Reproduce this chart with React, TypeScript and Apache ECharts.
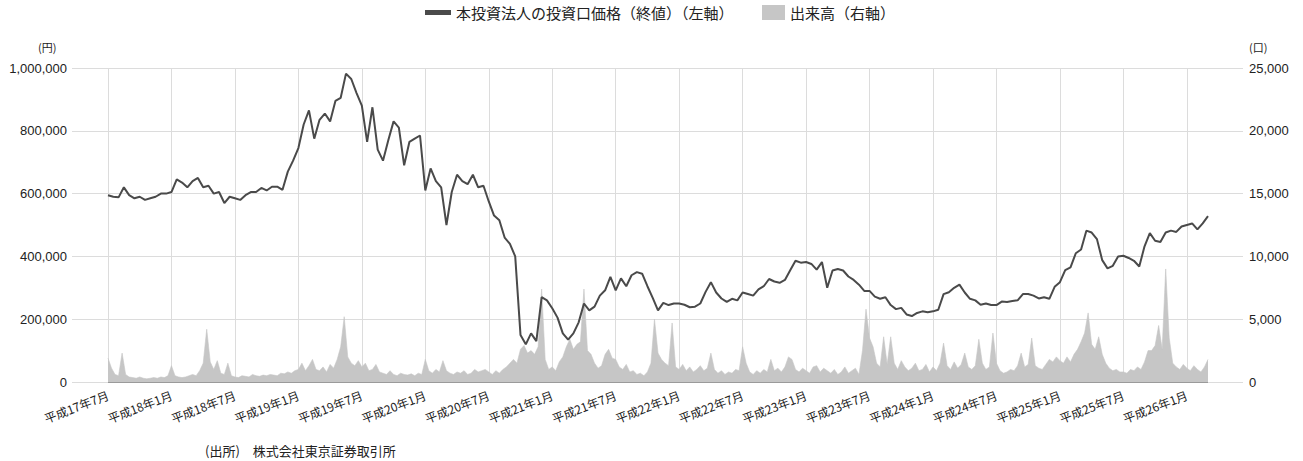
import React, { useEffect, useRef } from "react";
import * as echarts from "echarts";

// ---- data (price: every half month from 平成17年7月; volume: every third of a month) ----
const PRICE_NAME = "本投資法人の投資口価格（終値）（左軸）";
const VOLUME_NAME = "出来高（右軸）";

const priceStepMonths = 0.5;
const price: number[] = [
  // H17/7 - H17/12
  595, 590, 588, 620, 595, 585, 590, 580, 585, 590, 600, 600,
  // H18/1 - H18/6
  605, 645, 635, 620, 640, 650, 620, 625, 600, 605, 570, 590,
  // H18/7 - H18/12
  585, 580, 595, 605, 605, 618, 610, 622, 622, 612, 670, 705,
  // H19/1 - H19/6
  745, 820, 865, 775, 835, 855, 830, 895, 905, 982, 965, 920,
  // H19/7 - H19/12
  880, 765, 875, 740, 705, 770, 830, 810, 690, 765, 775, 785,
  // H20/1 - H20/6
  610, 680, 640, 620, 500, 605, 660, 640, 630, 660, 620, 625,
  // H20/7 - H20/12
  575, 530, 515, 460, 440, 400, 150, 120, 155, 130, 270, 260,
  // H21/1 - H21/6
  235, 205, 155, 135, 155, 190, 250, 228, 240, 275, 292, 335,
  // H21/7 - H21/12
  292, 330, 305, 340, 350, 345, 305, 268, 228, 252, 245, 250,
  // H22/1 - H22/6
  250, 246, 238, 240, 250, 287, 318, 285, 266, 255, 265, 260,
  // H22/7 - H22/12
  285, 280, 275, 295, 305, 328, 320, 316, 325, 356, 386, 380,
  // H23/1 - H23/6
  382, 376, 358, 382, 300, 355, 360, 355, 336, 325, 310, 290,
  // H23/7 - H23/12
  290, 272, 265, 270, 245, 232, 236, 215, 210, 220, 225, 222,
  // H24/1 - H24/6
  225, 230, 280, 286, 300, 310, 285, 265, 260, 246, 250, 245,
  // H24/7 - H24/12
  245, 256, 255, 258, 260, 280, 280, 275, 266, 270, 265, 303,
  // H25/1 - H25/6
  318, 356, 365, 410, 422, 482, 476, 455, 388, 362, 370, 400,
  // H25/7 - H25/12
  402, 395, 386, 368, 432, 474, 450, 446, 476, 482, 478, 495,
  // H26/1 - H26/4
  500, 505, 486, 505, 528,
].map((v) => v * 1000);

const volumeStepMonths = 1 / 3;
const volume: number[] = [
  // H17/7 - H17/12
  1900, 1100, 600, 500, 2300, 600, 400, 350, 300, 400, 300, 250, 300, 350, 300, 400, 350, 500,
  // H18/1 - H18/6
  1300, 500, 400, 350, 400, 500, 600, 500, 900, 1500, 4200, 1600, 1000, 1700, 700, 600, 1500, 500,
  // H18/7 - H18/12
  400, 350, 500, 450, 400, 600, 500, 450, 550, 500, 600, 550, 500, 700, 650, 800, 700, 900,
  // H19/1 - H19/6
  1000, 1500, 900, 1300, 1800, 1000, 900, 1200, 800, 1400, 1100, 1800, 2800, 5200, 2000, 1500, 1300, 1700,
  // H19/7 - H19/12
  1200, 1500, 900, 1000, 1400, 800, 700, 600, 900, 600, 500, 700, 600, 550, 650, 500, 700, 600,
  // H20/1 - H20/6
  1800, 900, 700, 1000, 800, 1700, 900, 700, 600, 800, 700, 900, 600, 700, 1000, 800, 900, 1000,
  // H20/7 - H20/12
  800, 600, 900, 700, 1000, 1200, 1500, 1800, 1500, 2600, 2900, 2300, 2500, 2200, 2800, 7400, 1800, 1000,
  // H21/1 - H21/6
  1200, 900, 1600, 2000, 2800, 3400, 2600, 3000, 3200, 7400, 2500, 2200, 1500, 1100, 1300, 2200, 2600, 1900,
  // H21/7 - H21/12
  1800, 1200, 1000, 1400, 800, 900, 600, 700, 500, 800, 1500, 5000, 2300, 1800, 1500, 1300, 4700, 1200,
  // H22/1 - H22/6
  1000, 1400, 900, 1200, 800, 1000, 1300, 900, 1100, 2300, 1000, 700, 900, 600, 800, 700, 1000, 900,
  // H22/7 - H22/12
  2800, 1500, 800, 600, 900, 700, 1000, 800, 1800, 900, 1100, 800, 1200, 2000, 1800, 1000, 800, 1100,
  // H23/1 - H23/6
  900, 700, 1200, 1300, 800, 1100, 900, 700, 1000, 600, 800, 1200, 700, 900, 1100, 600, 2500, 5800,
  // H23/7 - H23/12
  3500, 2800, 1500, 1200, 3600, 1400, 3600, 1500, 1000, 1700, 1200, 900, 1100, 1500, 900, 1000, 1400, 800,
  // H24/1 - H24/6
  1200, 900, 1500, 3100, 1300, 1000, 1600, 1100, 1400, 2300, 1200, 1000, 1300, 3400, 1500, 1000, 1200, 3900,
  // H24/7 - H24/12
  1500, 900, 700, 800, 1000, 900, 1300, 2300, 1200, 1400, 3500, 1300, 1100, 1000, 1400, 1800, 1600, 2000,
  // H25/1 - H25/6
  1700, 1500, 2000, 1600, 2200, 2600, 3200, 3900, 5500, 3000, 2600, 3600, 2200, 1500, 1100, 900, 1000, 800,
  // H25/7 - H25/12
  800, 700, 1000, 900, 1200, 1000, 1600, 2500, 2500, 2900, 4500, 2600, 9000, 3500, 1500, 1200, 1000, 1400,
  // H26/1 - H26/4
  1100, 900, 1300, 1000, 800, 1200, 1800,
];

const leftTicks = { min: 0, max: 1000000, interval: 200000 };
const rightTicks = { min: 0, max: 25000, interval: 5000 };
const xRange = { min: 0, max: 104, interval: 6 }; // months from 平成17年7月
const startHeiseiYear = 17;
const startMonthIndex = 6; // July (0-based)

const fmtNum = (v: number) => v.toLocaleString("en-US");
const heiseiLabel = (m: number) => {
  const total = startMonthIndex + Math.round(m);
  const y = startHeiseiYear + Math.floor(total / 12);
  const mo = (total % 12) + 1;
  return `平成${y}年${mo}月`;
};

const JP = "'Noto Sans CJK JP', 'Noto Sans', sans-serif";
const NUM = "'Liberation Sans', Arial, sans-serif";

export default function App() {
  const ref = useRef<HTMLDivElement>(null);
  useEffect(() => {
    if (!ref.current) return;
    const chart = echarts.init(ref.current, null, { renderer: "svg" });
    const priceData = price.map((v, i) => [i * priceStepMonths, v]);
    const volumeData = volume.map((v, i) => [i * volumeStepMonths, v]);
    const gridColor = "#dcdcdc";
    chart.setOption({
      animation: false,
      backgroundColor: "#ffffff",
      legend: [
        {
          data: [{ name: PRICE_NAME, icon: "rect" }],
          left: 420,
          top: 0,
          itemWidth: 26,
          itemHeight: 5,
          selectedMode: false,
          itemStyle: { borderWidth: 0 },
          textStyle: { fontFamily: JP, fontSize: 15, color: "#222" },
        },
        {
          data: [{ name: VOLUME_NAME, icon: "rect" }],
          left: 757,
          top: 0,
          itemWidth: 23,
          itemHeight: 15,
          selectedMode: false,
          itemStyle: { borderWidth: 0 },
          textStyle: { fontFamily: JP, fontSize: 15, color: "#222" },
        },
      ],
      grid: { left: 108, right: 95, top: 68, bottom: 79, containLabel: false },
      xAxis: {
        type: "value",
        min: xRange.min,
        max: xRange.max,
        interval: xRange.interval,
        axisLine: { show: true, lineStyle: { color: "#9a9a9a", width: 1 } },
        axisTick: { show: false },
        splitLine: { show: true, showMaxLine: false, lineStyle: { color: gridColor, width: 1 } },
        axisLabel: {
          rotate: 21,
          margin: 12,
          fontFamily: JP,
          fontSize: 12,
          color: "#222",
          showMaxLabel: false,
          formatter: (v: number) => (Math.abs(v % 6) < 1e-6 ? heiseiLabel(v) : ""),
        },
      },
      yAxis: [
        {
          type: "value",
          min: leftTicks.min,
          max: leftTicks.max,
          interval: leftTicks.interval,
          position: "left",
          axisLine: { show: false },
          axisTick: { show: true, length: 36, lineStyle: { color: gridColor } },
          splitLine: { show: true, lineStyle: { color: gridColor, width: 1 } },
          axisLabel: { margin: 41, fontFamily: NUM, fontSize: 13, color: "#222", formatter: fmtNum },
        },
        {
          type: "value",
          min: rightTicks.min,
          max: rightTicks.max,
          interval: rightTicks.interval,
          position: "right",
          axisLine: { show: false },
          axisTick: { show: true, length: 35, lineStyle: { color: gridColor } },
          splitLine: { show: false },
          axisLabel: { margin: 41, fontFamily: NUM, fontSize: 13, color: "#222", formatter: fmtNum },
        },
      ],
      series: [
        {
          name: VOLUME_NAME,
          type: "line",
          yAxisIndex: 1,
          data: volumeData,
          showSymbol: false,
          symbol: "none",
          z: 1,
          itemStyle: { color: "#c6c6c6" },
          lineStyle: { color: "#c6c6c6", width: 0.6 },
          areaStyle: { color: "#c6c6c6", opacity: 1 },
        },
        {
          name: PRICE_NAME,
          type: "line",
          yAxisIndex: 0,
          data: priceData,
          showSymbol: false,
          symbol: "none",
          z: 3,
          itemStyle: { color: "#4a4a4a" },
          lineStyle: { color: "#4a4a4a", width: 2 },
        },
      ],
      graphic: [
        {
          type: "text",
          left: 38,
          top: 41,
          style: { text: "(円)", fontFamily: JP, fontSize: 11, fill: "#222" },
        },
        {
          type: "text",
          left: 1249,
          top: 41,
          style: { text: "(口)", fontFamily: JP, fontSize: 11, fill: "#222" },
        },
        {
          type: "text",
          left: 205,
          top: 444,
          style: { text: "(出所)　株式会社東京証券取引所", fontFamily: JP, fontSize: 13, fill: "#222" },
        },
      ],
    });
    return () => chart.dispose();
  }, []);
  return (
    <div
      ref={ref}
      style={{ position: "fixed", left: 0, top: 0, width: 1303, height: 461, background: "#fff" }}
    />
  );
}
